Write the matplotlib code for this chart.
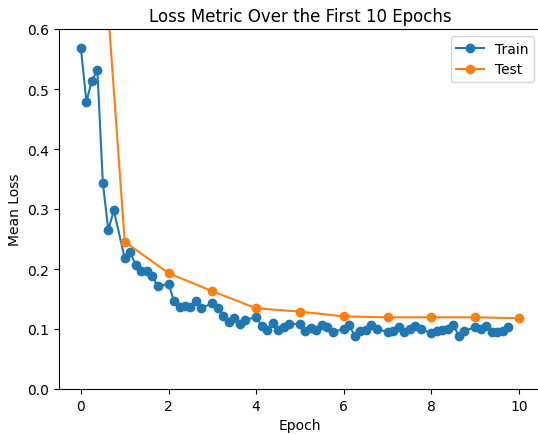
import numpy as np
import matplotlib
matplotlib.use("Agg")
import matplotlib.pyplot as plt

# Train loss logged 7 times per epoch (epoch + k/8, k = 0..6)
train_loss = [
    0.568, 0.479, 0.514, 0.531, 0.344, 0.265, 0.298,     # epoch 0
    0.218, 0.228, 0.206, 0.197, 0.197, 0.189, 0.171,     # epoch 1
    0.175, 0.147, 0.136, 0.138, 0.136, 0.146, 0.135,     # epoch 2
    0.143, 0.135, 0.122, 0.111, 0.118, 0.108, 0.115,     # epoch 3
    0.120, 0.105, 0.099, 0.110, 0.098, 0.104, 0.109,     # epoch 4
    0.108, 0.096, 0.102, 0.098, 0.107, 0.103, 0.095,     # epoch 5
    0.100, 0.106, 0.088, 0.097, 0.099, 0.107, 0.100,     # epoch 6
    0.095, 0.096, 0.103, 0.095, 0.100, 0.105, 0.100,     # epoch 7
    0.093, 0.097, 0.099, 0.100, 0.107, 0.088, 0.097,     # epoch 8
    0.103, 0.100, 0.105, 0.095, 0.095, 0.097, 0.104,     # epoch 9
]
train_epochs = [e + k / 8 for e in range(10) for k in range(7)]

test_epochs = list(range(11))
test_loss = [1.26, 0.2455, 0.193, 0.163, 0.1345, 0.129, 0.121, 0.1195, 0.1195, 0.1195, 0.118]

fig = plt.figure(figsize=(5.38, 4.35), dpi=100)
ax = fig.add_axes([59 / 538, (435 - 390) / 435, (541 - 59) / 538, 360 / 435])
ax.plot(train_epochs, train_loss, marker="o", label="Train")
ax.plot(test_epochs, test_loss, marker="o", label="Test")
ax.set_ylim(0.0, 0.6)
ax.set_xlim(-0.5, 10.5)
ax.set_title("Loss Metric Over the First 10 Epochs")
ax.set_xlabel("Epoch")
ax.set_ylabel("Mean Loss")
ax.legend(loc="upper right")
fig.savefig("out.png", dpi=100)
